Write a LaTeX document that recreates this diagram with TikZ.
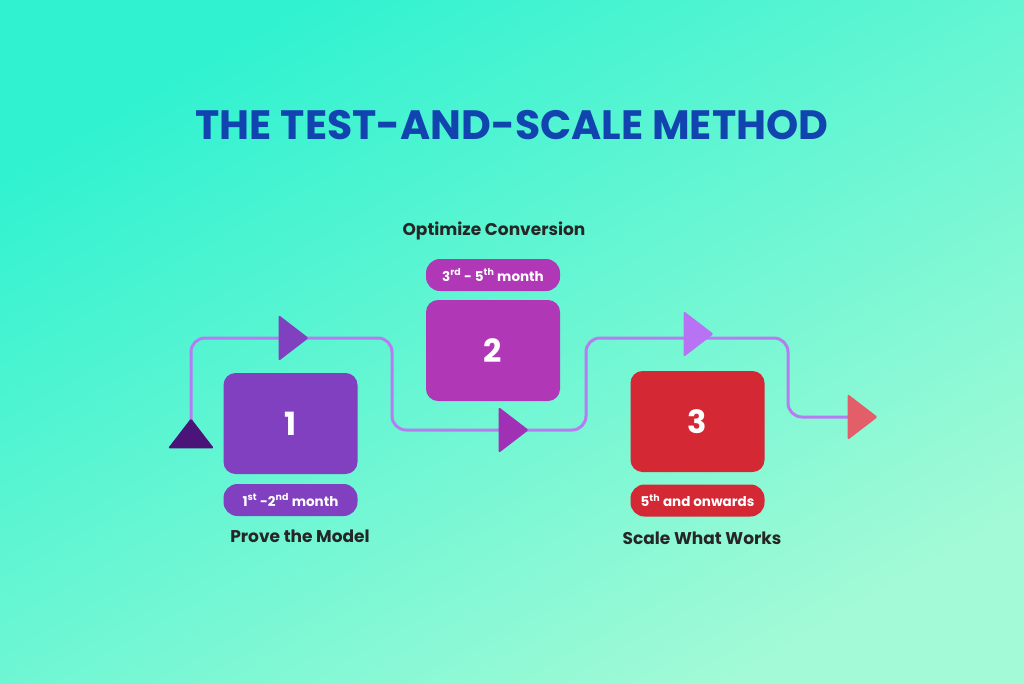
\documentclass[tikz,border=0pt]{standalone}
\usepackage{fontspec}
\setmainfont{Poppins}
\usetikzlibrary{shapes.geometric}
\definecolor{lineC}{HTML}{B77CF2}
\definecolor{boxA}{HTML}{8040C0}
\definecolor{boxB}{HTML}{B038B6}
\definecolor{boxC}{HTML}{D42834}
\definecolor{tipA}{HTML}{4A1478}
\definecolor{tipB}{HTML}{A030B4}
\definecolor{tipC}{HTML}{B872F4}
\definecolor{tipD}{HTML}{E25E68}
\definecolor{titleC}{HTML}{1244B0}
\definecolor{bgA}{HTML}{A2FAD6}
\definecolor{bgB}{HTML}{30F2D0}
\begin{document}
\begin{tikzpicture}[x=1pt,y=-1pt]
\tikzset{stage/.style = {rounded corners=12pt, minimum width=134pt, minimum height=101pt, text=white, font=\bfseries\fontsize{32}{32}\selectfont, inner sep=0pt}}
\tikzset{pill/.style = {rounded corners=14pt, minimum width=134pt, minimum height=32pt, text=white, font=\bfseries\fontsize{13.5}{14}\selectfont, inner sep=0pt}}
\tikzset{caption/.style = {text=black!85, font=\bfseries\fontsize{17}{18}\selectfont}}
\tikzset{marker/.style = {isosceles triangle, isosceles triangle apex angle=75, minimum size=30pt, inner sep=0pt, rounded corners=2pt}}
\tikzset{route/.style = {lineC, line width=3pt, rounded corners=14pt}}
\shade[left color=bgB, right color=bgA, shading angle=30] (0,0) rectangle (1024,683);
\useasboundingbox (0,0) rectangle (1024,683);
\node[text=titleC, font=\bfseries\fontsize{41}{44}\selectfont] (title) at (512,125) {THE TEST-AND-SCALE METHOD};
% stages
\node[stage, fill=boxA] (s1) at (290.5,423.5) {1};
\node[stage, fill=boxB] (s2) at (493,350.5) {2};
\node[stage, fill=boxC] (s3) at (697.5,421.5) {3};
\node[pill, fill=boxA] (p1) at (290.5,500) {1\textsuperscript{st} -2\textsuperscript{nd} month};
\node[pill, fill=boxB] (p2) at (493,275) {3\textsuperscript{rd} - 5\textsuperscript{th} month};
\node[pill, fill=boxC] (p3) at (697.5,500.5) {5\textsuperscript{th} and onwards};
\node[caption] (c1) at (300,536) {Prove the Model};
\node[caption] (c2) at (494,231) {Optimize Conversion};
\node[caption] (c3) at (702,538) {Scale What Works};
% route
\coordinate (r0) at (191,430);
\coordinate (r1) at (191,338);
\coordinate (r2) at (392,338);
\coordinate (r3) at (392,430);
\coordinate (r4) at (586,430);
\coordinate (r5) at (586,338);
\coordinate (r6) at (788,338);
\coordinate (r7) at (788,417);
\coordinate (r8) at (850,417);
\draw[route] (r0) -- (r1) -- (r2) -- (r3) -- (r4) -- (r5) -- (r6) -- (r7) -- (r8);
\node[marker, fill=tipA, shape border rotate=90] (t1) at (191,437) {};
\node[marker, fill=boxA] (t2) at (290,338) {};
\node[marker, fill=tipB] (t3) at (510,430) {};
\node[marker, fill=tipC] (t4) at (695,334) {};
\node[marker, fill=tipD] (t5) at (859,417) {};
\end{tikzpicture}
\end{document}
